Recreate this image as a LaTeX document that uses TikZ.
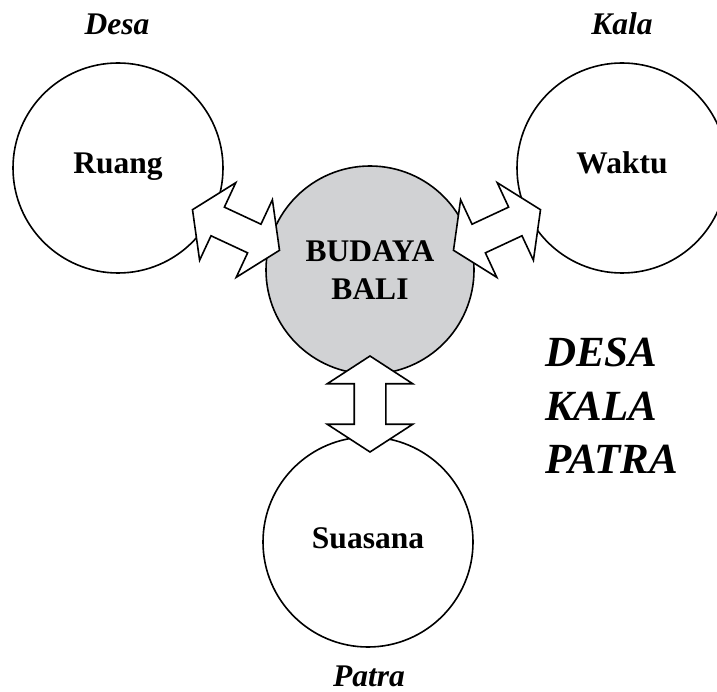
\documentclass[tikz,border=0pt]{standalone}
\usepackage{fontspec}
\setmainfont{Liberation Serif}
\usetikzlibrary{shapes.arrows}
\definecolor{budayagray}{RGB}{209,210,212}

\begin{document}
\begin{tikzpicture}[x=1pt, y=-1pt,
  ring/.style={circle, draw, line width=1.6pt, minimum size=210pt, inner sep=0pt,
    font=\fontsize{31.5}{37}\selectfont\bfseries, text height=20pt, text depth=8pt},
  link/.style={double arrow, draw, fill=white, line width=1.6pt, inner sep=15pt,
    minimum height=96pt, double arrow head extend=27pt, double arrow tip angle=114},
  tag/.style={anchor=base, font=\fontsize{31.5}{37}\selectfont\bfseries\itshape}]
  \useasboundingbox (0,0) rectangle (717,692);
  % circles
  \node[ring] at (118,168) (ruang) {Ruang};
  \node[ring] at (622,168) (waktu) {Waktu};
  \node[ring] at (368,542) (suasana) {Suasana};
  \node[circle, draw, fill=budayagray, line width=1.6pt, minimum size=208pt, inner sep=0pt,
    align=center, font=\fontsize{31.5}{38}\selectfont\bfseries] at (370,270) (budaya) {BUDAYA\\BALI};
  % block arrows
  \node[link, rotate=-25] at (236,230) (ruangbudaya) {};
  \node[link, rotate=25] at (497,230) (waktubudaya) {};
  \node[link, rotate=90] at (370,404) (suasanabudaya) {};
  % labels
  \node[tag] at (117,35) (desa) {Desa};
  \node[tag] at (622,35) (kala) {Kala};
  \node[tag] at (369,686) (patra) {Patra};
  \node[anchor=north west, inner sep=0pt, align=left,
    font=\fontsize{43}{53.5}\selectfont\bfseries\itshape] at (545,338) (motto) {DESA\\KALA\\PATRA};
\end{tikzpicture}
\end{document}
